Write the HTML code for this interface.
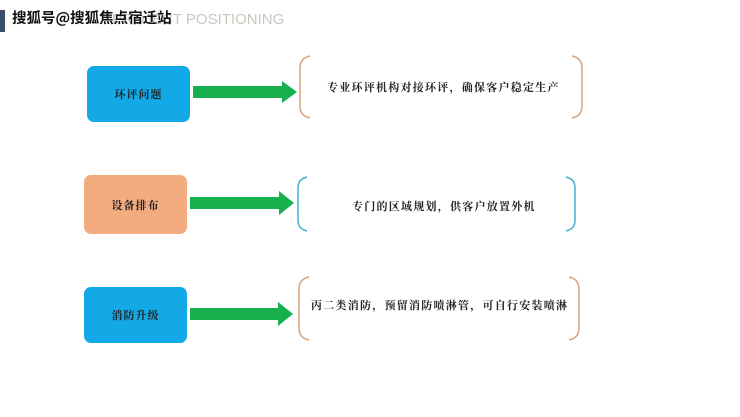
<!DOCTYPE html>
<html><head><meta charset="utf-8"><style>
body{margin:0;width:740px;height:417px;background:#fff;position:relative;overflow:hidden;font-family:"Liberation Sans","Noto Serif CJK SC","Noto Sans CJK SC",sans-serif}
.t{position:absolute;white-space:nowrap}
.box{position:absolute;border-radius:7px;display:flex;align-items:center;justify-content:center;font-size:11px;font-weight:bold;color:#222;font-family:"Noto Serif CJK SC",serif;letter-spacing:1px}
.txt{position:absolute;font-size:11px;font-weight:bold;color:#222;font-family:"Noto Serif CJK SC",serif;white-space:nowrap;letter-spacing:1.25px}
</style></head><body>
<div style="position:absolute;left:0;top:10px;width:5px;height:22px;background:#3c4f6a"></div>
<div class="t" style="left:112px;top:11px;font-size:15px;color:#c8c8c0">PROJECT POSITIONING</div>
<div class="t" style="left:12px;top:7px;font-size:14.5px;color:#111;font-family:'Noto Sans CJK SC',sans-serif;font-weight:bold">搜狐号@搜狐焦点宿迁站</div>

<div class="box" style="left:87px;top:66px;width:103px;height:56px;background:#12a9e6">环评问题</div>
<div class="box" style="left:84px;top:175px;width:103px;height:59px;background:#f3ab80">设备排布</div>
<div class="box" style="left:84px;top:287px;width:103px;height:56px;background:#12a9e6">消防升级</div>

<svg style="position:absolute;left:0;top:0" width="740" height="417">
<g fill="#17b04f">
<polygon points="193,86 282,86 282,81 297,92 282,103 282,98 193,98"/>
<polygon points="190,197 279,197 279,191 294,203 279,215 279,209 190,209"/>
<polygon points="190,308 278,308 278,302 293,314 278,326 278,320 190,320"/>
</g>
<g fill="none" stroke-width="1.5">
<path d="M310,56 Q300,58 300,68 L300,106 Q300,116 310,118" stroke="#d9a37c"/>
<path d="M572,56 Q582,58 582,68 L582,106 Q582,116 572,118" stroke="#d9a37c"/>
<path d="M307,177 Q298,179 298,188 L298,220 Q298,229 307,231" stroke="#3fb3d4"/>
<path d="M566,177 Q575,179 575,188 L575,220 Q575,229 566,231" stroke="#3fb3d4"/>
<path d="M309,277 Q299,279 299,289 L299,328 Q299,338 309,340" stroke="#d9a37c"/>
<path d="M569,277 Q579,279 579,289 L579,328 Q579,338 569,340" stroke="#d9a37c"/>
</g>
</svg>
<div class="txt" style="left:327px;top:79px">专业环评机构对接环评，确保客户稳定生产</div>
<div class="txt" style="left:352px;top:198px">专门的区域规划，供客户放置外机</div>
<div class="txt" style="left:311px;top:297px">丙二类消防，预留消防喷淋管，可自行安装喷淋</div>
</body></html>
